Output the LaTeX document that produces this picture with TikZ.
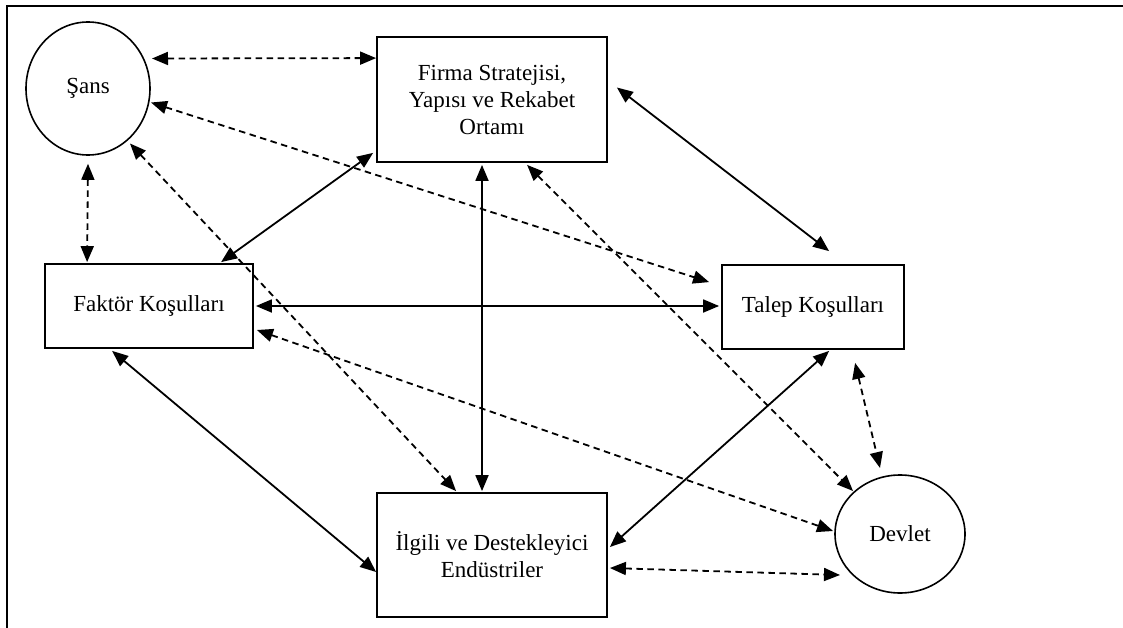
\documentclass[tikz,border=0pt]{standalone}
\usepackage{fontspec}
\setmainfont{Liberation Serif}
\usetikzlibrary{shapes.geometric,arrows.meta,calc}
\begin{document}
\begin{tikzpicture}[x=1pt,y=-1pt,
  every node/.style={font=\fontsize{23}{27}\selectfont, align=center, inner sep=0pt, text=black},
  boxnode/.style={draw=black, line width=1.8pt, rectangle},
  circnode/.style={draw=black, line width=1.6pt, ellipse},
  tipA/.tip={Triangle[length=16pt,width=13pt]},
  biarrow/.style={{tipA}-{tipA}, line width=1.8pt},
  solidlink/.style={biarrow},
  dashlink/.style={biarrow, dash pattern=on 6.5pt off 4.5pt}
]
\useasboundingbox (0,0) rectangle (1123,628);
\draw[line width=2.8pt] (7,628) -- (7,6) -- (1123,6);

\node[circnode, minimum width=124pt, minimum height=133pt] (sans) at (88,88.5) {\raisebox{-4pt}{Şans}};
\node[boxnode, minimum width=230pt, minimum height=125pt] (firma) at (492,99.5) {Firma Stratejisi,\\Yapısı ve Rekabet\\Ortamı};
\node[boxnode, minimum width=208pt, minimum height=84pt] (faktor) at (149,306) {Faktör Koşulları};
\node[boxnode, minimum width=182pt, minimum height=84pt] (talep) at (813,307) {Talep Koşulları};
\node[boxnode, minimum width=230pt, minimum height=124pt] (ilgili) at (492,555) {İlgili ve Destekleyici\\Endüstriler};
\node[circnode, minimum width=130pt, minimum height=118pt] (devlet) at (900,534) {\raisebox{-3pt}{Devlet}};

% dashed links
\draw[dashlink] ($(sans)+(64,-30)$) -- ($(firma.north west)+(0,22)$);
\draw[dashlink] ($(sans)+(63,14)$) -- ($(talep.north west)+(-12,18)$);
\draw[dashlink] ($(sans)+(42,55)$) -- ($(ilgili.north west)+(80,-1)$);
\draw[dashlink] ($(sans.south)+(0,8)$) -- ($(faktor.north west)+(43,-1)$);
\draw[dashlink] ($(firma.south west)+(151,2)$) -- ($(devlet)+(-47,-43)$);
\draw[dashlink] ($(faktor.east)+(3,24)$) -- ($(devlet)+(-67,-3)$);
\draw[dashlink] ($(talep.south west)+(134,13)$) -- ($(devlet)+(-20,-66)$);
\draw[dashlink] ($(ilgili.east)+(2,13)$) -- ($(devlet)+(-60,41)$);

% solid links
\draw[solidlink] ($(firma.south west)+(-3,-10)$) -- ($(faktor.north west)+(177,-1)$);
\draw[solidlink] ($(firma.east)+(9,-12)$) -- ($(talep.north west)+(108,-13)$);
\draw[solidlink] ($(firma.south)+(-10,2)$) -- ($(ilgili.north)+(-10,-1)$);
\draw[solidlink] ($(faktor.east)+(2,0)$) -- ($(talep.west)+(-2,-1)$);
\draw[solidlink] ($(faktor.south west)+(68,2)$) -- ($(ilgili.west)+(0,17)$);
\draw[solidlink] ($(talep.south west)+(108,1)$) -- ($(ilgili.east)+(2,-8)$);
\end{tikzpicture}
\end{document}
